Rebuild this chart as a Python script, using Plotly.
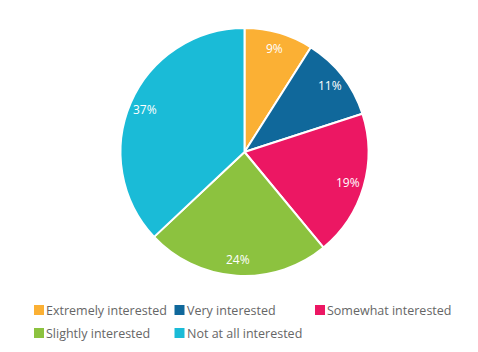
import math
import plotly.graph_objects as go

labels = ["Extremely interested", "Very interested", "Somewhat interested",
          "Slightly interested", "Not at all interested"]
values = [9, 11, 19, 24, 37]
colors = ["#FBB034", "#10689B", "#EC1763", "#8CC23F", "#1ABBD7"]

W, H = 478, 352
cx, cy, R = 244.5, 152, 124
dom_x = [(cx - R) / W, (cx + R) / W]
dom_y = [1 - (cy + R) / H, 1 - (cy - R) / H]

fig = go.Figure(go.Pie(
    labels=labels, values=values, sort=False, direction="clockwise", rotation=0,
    marker=dict(colors=colors, line=dict(color="white", width=2)),
    textinfo="none", hoverinfo="label+percent",
    domain=dict(x=dom_x, y=dom_y),
    showlegend=False,
))

# slice labels placed inside near the rim
total = sum(values)
cum = 0
label_r = 108
for v in values:
    mid = (cum + v / 2) / total * 2 * math.pi
    cum += v
    px = cx + label_r * math.sin(mid)
    py = cy - label_r * math.cos(mid)
    fig.add_annotation(x=px / W, y=1 - py / H, xref="paper", yref="paper",
                       xanchor="center", yanchor="middle",
                       text=f"{round(v / total * 100)}%", showarrow=False,
                       font=dict(family="Open Sans", size=12, color="white"))

# legend: 3 columns, 2 rows below the pie
leg_x0, leg_y0, col_w, row_h, sw = 34, 310, 140.5, 23, 10
for i, (lab, col) in enumerate(zip(labels, colors)):
    c, r = i % 3, i // 3
    x = leg_x0 + c * col_w
    y = leg_y0 + r * row_h
    fig.add_shape(type="rect", xref="paper", yref="paper",
                  x0=x / W, x1=(x + sw) / W,
                  y0=1 - (y + sw / 2) / H, y1=1 - (y - sw / 2) / H,
                  fillcolor=col, line=dict(width=0))
    fig.add_annotation(x=(x + sw + 1) / W, y=1 - y / H, xref="paper", yref="paper",
                       xanchor="left", yanchor="middle", showarrow=False, borderpad=0,
                       text=lab, font=dict(family="Open Sans", size=12.5, color="#666666"))

fig.update_layout(
    width=W, height=H, margin=dict(l=0, r=0, t=0, b=0),
    paper_bgcolor="white", plot_bgcolor="white",
    font=dict(family="Open Sans", size=12, color="#666666"),
    showlegend=False,
)
fig.write_html("out.html")
